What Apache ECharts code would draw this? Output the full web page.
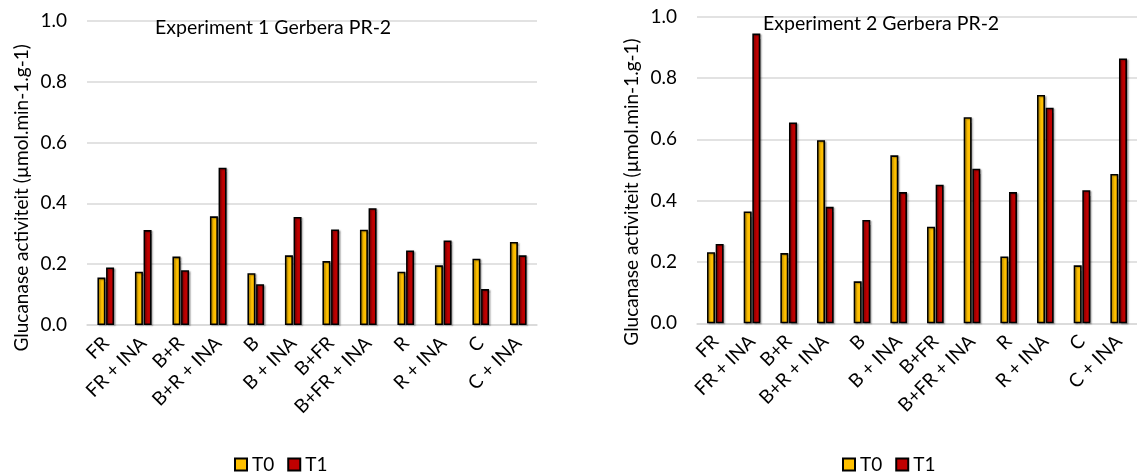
<!DOCTYPE html>
<html>
<head>
<meta charset="utf-8">
<script src="https://cdn.jsdelivr.net/npm/echarts@6/dist/echarts.min.js"></script>
<style>
html,body{margin:0;padding:0;background:#fff;}
#c{width:1137px;height:473px;}
</style>
</head>
<body>
<div id="c"></div>
<script>
const categories = ['FR','FR + INA','B+R','B+R + INA','B','B + INA','B+FR','B+FR + INA','R','R + INA','C','C + INA'];
const yTicks = [0, 0.2, 0.4, 0.6, 0.8, 1.0];
const exp1T0 = [0.156, 0.175, 0.225, 0.357, 0.170, 0.229, 0.210, 0.313, 0.175, 0.196, 0.218, 0.273];
const exp1T1 = [0.189, 0.312, 0.180, 0.517, 0.134, 0.355, 0.314, 0.384, 0.245, 0.278, 0.118, 0.229];
const exp2T0 = [0.232, 0.365, 0.229, 0.597, 0.137, 0.548, 0.315, 0.672, 0.218, 0.745, 0.189, 0.487];
const exp2T1 = [0.259, 0.945, 0.655, 0.380, 0.337, 0.428, 0.452, 0.504, 0.428, 0.703, 0.434, 0.864];
const titles = ['Experiment 1 Gerbera PR-2', 'Experiment 2 Gerbera PR-2'];
const yName = 'Glucanase activiteit (µmol.min-1.g-1)';

const FONT = 'Lato';
const FS = 19;
const C0 = '#FFC000', C1 = '#C00000';

const chart = echarts.init(document.getElementById('c'));

function xAxis(gi){
  return {
    type:'category', gridIndex:gi, data:categories,
    axisLine:{show:true, lineStyle:{color:'#d9d9d9', width:1.5}},
    axisTick:{show:false},
    axisLabel:{rotate:45, interval:0, margin:15, color:'#000', fontFamily:FONT, fontSize:FS}
  };
}
function yAxis(gi, pad){
  return {
    type:'value', gridIndex:gi, min:0, max:1, interval:0.2,
    axisLine:{show:false}, axisTick:{show:false},
    splitLine:{lineStyle:{color:'#d9d9d9', width:1.5}},
    axisLabel:{margin:20, color:'#000', fontFamily:FONT, fontSize:FS,
      formatter:v=>v.toFixed(1)},
    name:yName, nameLocation:'middle', nameGap:56,
    nameTextStyle:{color:'#000', fontFamily:FONT, fontSize:FS, padding:[0,pad,0,0]}
  };
}
function bar(name, data, color, gi){
  return {
    name, type:'bar', xAxisIndex:gi, yAxisIndex:gi, data,
    barWidth:8, barGap:'8%',
    itemStyle:{color, borderColor:'#000', borderWidth:1.6,
      shadowColor:'rgba(0,0,0,0.3)', shadowOffsetX:1.5, shadowOffsetY:1, shadowBlur:1.5}
  };
}

chart.setOption({
  animation:false,
  textStyle:{fontFamily:FONT},
  title:[
    {text:titles[0], left:150, top:13, textStyle:{fontFamily:FONT, fontSize:19.5, fontWeight:'normal', color:'#000'}},
    {text:titles[1], left:758, top:9, textStyle:{fontFamily:FONT, fontSize:19.5, fontWeight:'normal', color:'#000'}}
  ],
  grid:[
    {left:87, top:20.7, width:450, height:304.3, containLabel:false},
    {left:697, top:16.7, width:444, height:306.6, containLabel:false}
  ],
  legend:[
    {left:229, top:450, itemWidth:12, itemHeight:12, itemGap:13, icon:'rect',
      data:['T0','T1'], textStyle:{fontFamily:FONT, fontSize:FS, color:'#000'}},
    {left:837, top:450, itemWidth:12, itemHeight:12, itemGap:13, icon:'rect',
      data:['T0','T1'], textStyle:{fontFamily:FONT, fontSize:FS, color:'#000'}}
  ],
  xAxis:[xAxis(0), xAxis(1)],
  yAxis:[yAxis(0, 50), yAxis(1, 44)],
  series:[
    bar('T0', exp1T0, C0, 0),
    bar('T1', exp1T1, C1, 0),
    bar('T0', exp2T0, C0, 1),
    bar('T1', exp2T1, C1, 1)
  ]
});
</script>
</body>
</html>
